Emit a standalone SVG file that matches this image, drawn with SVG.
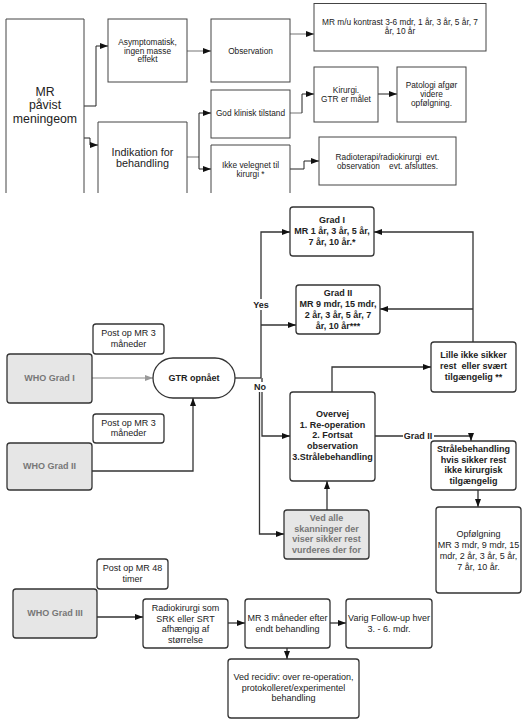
<svg xmlns="http://www.w3.org/2000/svg" width="527" height="723" viewBox="0 0 527 723">
<defs>
<style>
text{font-family:"Liberation Sans",Arial,sans-serif;fill:#222;text-anchor:middle;white-space:pre}
.t8{font-size:8.3px}
.t9{font-size:9px}
.b9{font-size:9px;font-weight:bold}
.g9{font-size:9px;font-weight:bold;fill:#777}
.sq{fill:#fff;stroke:#444;stroke-width:1}
.rb{fill:#fff;stroke:#333;stroke-width:1.3}
.gb{fill:#e6e6e6;stroke:#333;stroke-width:1.3}
.c{fill:none;stroke:#222;stroke-width:1}
.cg{fill:none;stroke:#8a8a8a;stroke-width:1.2}
.cm{fill:none;stroke:#333;stroke-width:1.3}
</style>
<marker id="a" markerUnits="userSpaceOnUse" markerWidth="8" markerHeight="6" refX="8" refY="3" orient="auto"><path d="M0,0L8,3L0,6z" fill="#111"/></marker>
<marker id="ag" markerUnits="userSpaceOnUse" markerWidth="8" markerHeight="6" refX="8" refY="3" orient="auto"><path d="M0,0L8,3L0,6z" fill="#999"/></marker>
</defs>
<rect width="527" height="723" fill="#fff"/>
<g id="connectors">
<path class="c" d="M84,106H96V46H108" marker-end="url(#a)"/>
<path class="c" d="M84,138H90V145H98" marker-end="url(#a)"/>
<path class="cg" d="M187,51H211" marker-end="url(#a)"/>
<path class="cg" d="M290,34H314" marker-end="url(#a)"/>
<path class="cg" d="M187,157H199"/>
<path class="c" d="M199,157V113H211" marker-end="url(#a)"/>
<path class="c" d="M199,157V169H211" marker-end="url(#a)"/>
<path class="cg" d="M290,113H302"/>
<path class="c" d="M302,113V94H314" marker-end="url(#a)"/>
<path class="c" d="M378,94H397" stroke-width="2" marker-end="url(#a)"/>
<path class="c" d="M290,169H304V161H319" marker-end="url(#a)"/>
<path class="cg" d="M92,378H153" marker-end="url(#ag)"/>
<path class="cm" d="M92,471H193V398" marker-end="url(#a)"/>
<path class="cm" d="M235,378H261"/>
<path class="cm" d="M261,378V232H290" marker-end="url(#a)"/>
<path class="cm" d="M261,325H296" marker-end="url(#a)"/>
<path class="cm" d="M262,378V436H290" marker-end="url(#a)"/>
<path class="cm" d="M259.5,384V534H284" marker-end="url(#a)"/>
<path class="cm" d="M332,392V367H431" stroke="#555" marker-end="url(#a)"/>
<path class="cm" d="M473,342V232H374" marker-end="url(#a)"/>
<path class="cm" d="M473,309H380" marker-end="url(#a)"/>
<path class="cm" d="M375,436H471V441" marker-end="url(#a)"/>
<path class="cm" d="M478,490V507" marker-end="url(#a)"/>
<path class="cm" d="M327,510V481" stroke="#555" marker-end="url(#a)"/>
<path class="cm" d="M97,617H143" marker-end="url(#a)"/>
<path class="cm" d="M228,623H245" marker-end="url(#a)"/>
<path class="cm" d="M330,623H346" marker-end="url(#a)"/>
<path class="cm" d="M287,648V659" marker-end="url(#a)"/>
<rect x="253" y="299" width="17" height="11" fill="#fff"/>
<text class="b9" x="261" y="307.5">Yes</text>
<rect x="253" y="382" width="15" height="10" fill="#fff"/>
<text class="b9" x="260" y="390">No</text>
<rect x="403" y="431" width="31" height="10" fill="#fff"/>
<text class="b9" x="418" y="439.2">Grad II</text>
</g>
<g id="n_mr">
<path class="sq" d="M6,193V19H84V193"/>
<text x="45" y="95.5" font-size="12.3">MR</text>
<text x="45" y="109" font-size="12.3">påvist</text>
<text x="45" y="122.5" font-size="12.3">meningeom</text>
</g>
<g id="n_asym">
<rect class="sq" x="108" y="19" width="79" height="63"/>
<text class="t8" x="147.5" y="45">Asymptomatisk,</text>
<text class="t8" x="147.5" y="53.7">ingen masse</text>
<text class="t8" x="147.5" y="62.4">effekt</text>
</g>
<g id="n_obs">
<rect class="sq" x="211" y="19" width="79" height="63"/>
<text class="t8" x="250.5" y="54">Observation</text>
</g>
<g id="n_mrk">
<rect class="sq" x="314" y="3.5" width="172" height="47.5"/>
<text class="t8" x="400" y="25">MR m/u kontrast 3-6 mdr, 1 år, 3 år, 5 år, 7</text>
<text class="t8" x="400" y="34">år, 10 år</text>
</g>
<g id="n_ind">
<path class="sq" d="M98,193V122H187V193"/>
<text x="142.5" y="155.8" font-size="10.8">Indikation for</text>
<text x="142.5" y="166.8" font-size="10.8">behandling</text>
</g>
<g id="n_god">
<rect class="sq" x="211" y="90" width="79" height="48"/>
<text class="t8" x="250.5" y="116">God klinisk tilstand</text>
</g>
<g id="n_ikke">
<path class="sq" d="M211,193V145H290V193"/>
<text class="t8" x="250.5" y="168">Ikke velegnet til</text>
<text class="t8" x="250.5" y="176.5">kirurgi *</text>
</g>
<g id="n_kir">
<rect class="sq" x="314" y="67" width="64" height="55"/>
<text class="t8" x="346" y="93">Kirurgi.</text>
<text class="t8" x="346" y="101.5">GTR er målet</text>
</g>
<g id="n_pat">
<rect class="sq" x="397" y="67" width="69" height="55"/>
<text class="t8" x="431.5" y="88">Patologi afgør</text>
<text class="t8" x="431.5" y="97">videre</text>
<text class="t8" x="431.5" y="106">opfølgning.</text>
</g>
<g id="n_radio">
<rect class="sq" x="319" y="137" width="137" height="48"/>
<text class="t8" x="387.5" y="160">Radioterapi/radiokirurgi  evt.</text>
<text class="t8" x="387.5" y="169">observation    evt. afsluttes.</text>
</g>
<g id="n_grad1">
<rect class="rb" x="290" y="207" width="84" height="49" rx="3"/>
<text class="b9" x="332" y="223">Grad I</text>
<text class="b9" x="332" y="234">MR 1 år, 3 år, 5 år,</text>
<text class="b9" x="332" y="245">7 år, 10 år.*</text>
</g>
<g id="n_grad2">
<rect class="rb" x="296" y="285" width="84" height="49" rx="3"/>
<text class="b9" x="338" y="296.2">Grad II</text>
<text class="b9" x="338" y="307">MR 9 mdr, 15 mdr,</text>
<text class="b9" x="338" y="317.8">2 år, 3 år, 5 år, 7</text>
<text class="b9" x="338" y="328.6">år, 10 år***</text>
</g>
<g id="n_lille">
<rect class="rb" x="431" y="342" width="85" height="50" rx="3"/>
<text class="b9" x="473.5" y="358">Lille ikke sikker</text>
<text class="b9" x="473.5" y="369">rest  eller svært</text>
<text class="b9" x="473.5" y="380">tilgængelig **</text>
</g>
<g id="n_overvej">
<rect class="rb" x="290" y="392" width="85" height="89" rx="3"/>
<text class="b9" x="332.5" y="417">Overvej</text>
<text class="b9" x="332.5" y="427.7">1. Re-operation</text>
<text class="b9" x="332.5" y="438.4">2. Fortsat</text>
<text class="b9" x="332.5" y="449.1">observation</text>
<text class="b9" x="332.5" y="459.8">3.Strålebehandling</text>
</g>
<g id="n_straale">
<rect class="rb" x="431" y="441" width="85" height="49" rx="3"/>
<text class="b9" x="473.5" y="452.2">Strålebehandling</text>
<text class="b9" x="473.5" y="462.7">hvis sikker rest</text>
<text class="b9" x="473.5" y="473.2">ikke kirurgisk</text>
<text class="b9" x="473.5" y="483.7">tilgængelig</text>
</g>
<g id="n_opf">
<rect class="rb" x="436" y="507" width="85" height="86" rx="3"/>
<text class="t9" x="478.5" y="537">Opfølgning</text>
<text class="t9" x="478.5" y="548">MR 3 mdr, 9 mdr, 15</text>
<text class="t9" x="478.5" y="559">mdr, 2 år, 3 år, 5 år,</text>
<text class="t9" x="478.5" y="570">7 år, 10 år.</text>
</g>
<g id="n_vedalle">
<rect class="gb" x="284" y="510" width="85" height="49" rx="3"/>
<text class="g9" x="326.5" y="521.2">Ved alle</text>
<text class="g9" x="326.5" y="531.7">skanninger der</text>
<text class="g9" x="326.5" y="542.2">viser sikker rest</text>
<text class="g9" x="326.5" y="552.7">vurderes der for</text>
</g>
<g id="n_who1">
<rect class="gb" x="7" y="354" width="85" height="49" rx="3"/>
<text class="g9" x="49.5" y="381.2">WHO Grad I</text>
</g>
<g id="n_post1">
<rect class="rb" x="93" y="324" width="71" height="30" rx="3"/>
<text class="t9" x="128.5" y="336.2">Post op MR 3</text>
<text class="t9" x="128.5" y="347">måneder</text>
</g>
<g id="n_gtr">
<rect class="rb" x="153" y="358" width="82" height="40" rx="20"/>
<text class="b9" x="194" y="381.2">GTR opnået</text>
</g>
<g id="n_post2">
<rect class="rb" x="93" y="414" width="71" height="29" rx="3"/>
<text class="t9" x="128.5" y="425.8">Post op MR 3</text>
<text class="t9" x="128.5" y="436.4">måneder</text>
</g>
<g id="n_who2">
<rect class="gb" x="7" y="443" width="85" height="47" rx="3"/>
<text class="g9" x="49.5" y="469.2">WHO Grad II</text>
</g>
<g id="n_post48">
<rect class="rb" x="97" y="559" width="71" height="30" rx="3"/>
<text class="t9" x="132.5" y="571.2">Post op MR 48</text>
<text class="t9" x="132.5" y="582">timer</text>
</g>
<g id="n_who3">
<rect class="gb" x="13" y="589" width="84" height="49" rx="3"/>
<text class="g9" x="55" y="616.2">WHO Grad III</text>
</g>
<g id="n_radiok">
<rect class="rb" x="143" y="599" width="85" height="49" rx="3"/>
<text class="t9" x="185.5" y="611">Radiokirurgi som</text>
<text class="t9" x="185.5" y="621.5">SRK eller SRT</text>
<text class="t9" x="185.5" y="632">afhængig af</text>
<text class="t9" x="185.5" y="642.5">størrelse</text>
</g>
<g id="n_mr3">
<rect class="rb" x="245" y="599" width="85" height="49" rx="3"/>
<text class="t9" x="287.5" y="621">MR 3 måneder efter</text>
<text class="t9" x="287.5" y="631.5">endt behandling</text>
</g>
<g id="n_varig">
<rect class="rb" x="346" y="599" width="86" height="49" rx="3"/>
<text class="t9" x="389" y="621">Varig Follow-up hver</text>
<text class="t9" x="389" y="631.5">3. - 6. mdr.</text>
</g>
<g id="n_recidiv">
<rect class="rb" x="228" y="659" width="131" height="59" rx="3"/>
<text class="t9" x="293.5" y="680">Ved recidiv: over re-operation,</text>
<text class="t9" x="293.5" y="690.5">protokolleret/experimentel</text>
<text class="t9" x="293.5" y="701">behandling</text>
</g>
</svg>
